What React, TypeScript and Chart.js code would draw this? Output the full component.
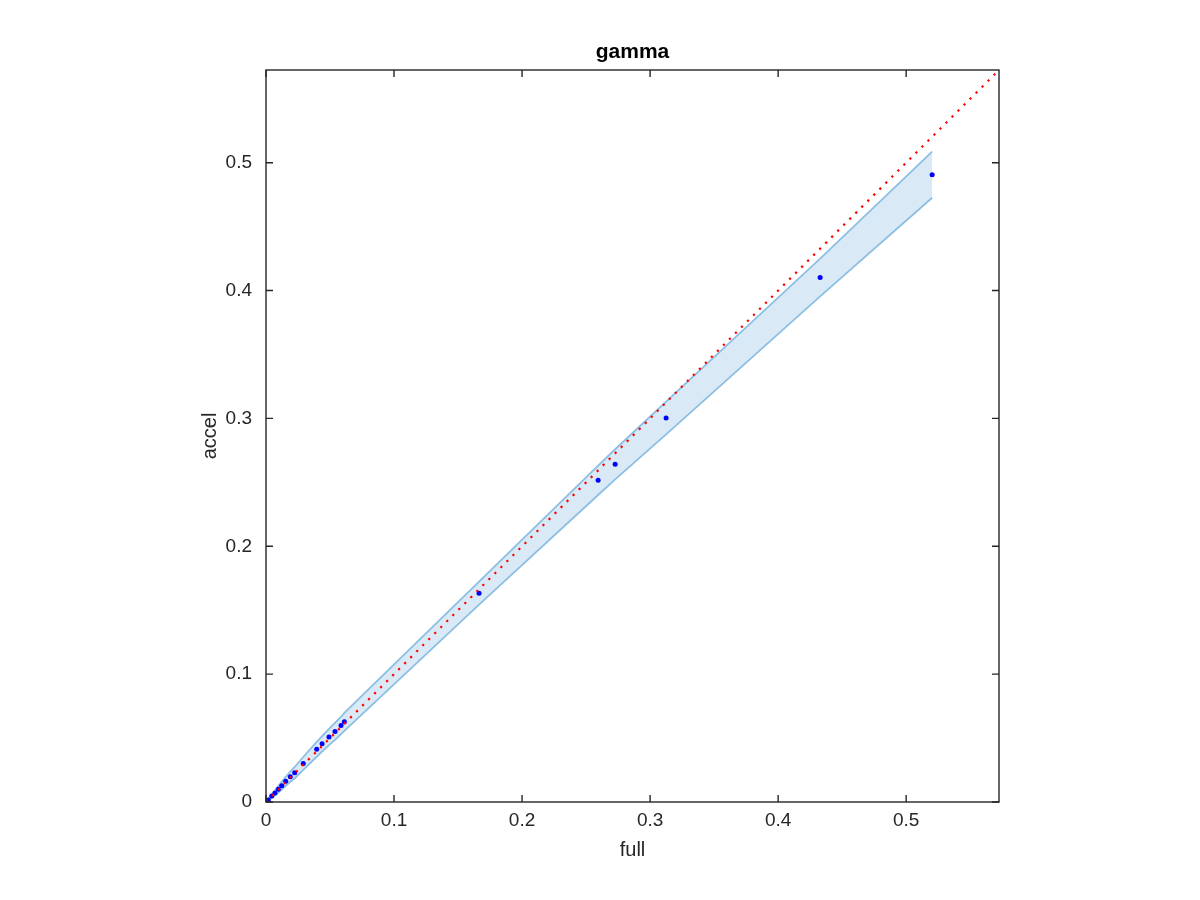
import { useEffect, useRef } from "react";
import { Chart, registerables } from "chart.js";

Chart.register(...registerables);

// ---- data ----
const fullValues = [0, 0.0018, 0.0045, 0.007, 0.0096, 0.0123, 0.0154, 0.019, 0.0224, 0.0291, 0.0396, 0.0438, 0.0492, 0.0539, 0.0586, 0.0612, 0.1664, 0.2594, 0.2727, 0.3125, 0.4328, 0.5203];
const accelValues = [0, 0.0016, 0.0047, 0.007, 0.0099, 0.0127, 0.0162, 0.0198, 0.0229, 0.0302, 0.0412, 0.0455, 0.0508, 0.0552, 0.0599, 0.0627, 0.1633, 0.2516, 0.2641, 0.3003, 0.4102, 0.4906];
const upperBand = [0.0005, 0.0026, 0.0062, 0.009, 0.0124, 0.0157, 0.0197, 0.0238, 0.0274, 0.0352, 0.047, 0.0515, 0.0571, 0.0618, 0.0667, 0.0697, 0.1723, 0.2631, 0.2759, 0.3131, 0.425, 0.5086];
const lowerBand = [0, 0.0006, 0.0032, 0.005, 0.0074, 0.0097, 0.0127, 0.0158, 0.0184, 0.0252, 0.0354, 0.0395, 0.0445, 0.0486, 0.0531, 0.0557, 0.1543, 0.2401, 0.2523, 0.2875, 0.3954, 0.4726];
const identityLine = [0, 0.5725];
const tickValues = [0, 0.1, 0.2, 0.3, 0.4, 0.5];
const axisMin = 0;
const axisMax = 0.5725;
const titleText = "gamma";
const xLabel = "full";
const yLabel = "accel";

const FONT = '"Liberation Sans", Arial, Helvetica, sans-serif';
const AXIS_COLOR = "#262626";

const boxPlugin = {
  id: "matlabBox",
  afterDraw(chart: any) {
    const { ctx, chartArea: a, scales } = chart;
    const x = scales.x;
    const y = scales.y;
    ctx.save();
    ctx.strokeStyle = AXIS_COLOR;
    ctx.lineWidth = 1.4;
    ctx.strokeRect(a.left, a.top, a.right - a.left, a.bottom - a.top);
    const tl = 7;
    ctx.beginPath();
    x.ticks.forEach((t: any) => {
      const px = x.getPixelForValue(t.value);
      ctx.moveTo(px, a.bottom);
      ctx.lineTo(px, a.bottom - tl);
      ctx.moveTo(px, a.top);
      ctx.lineTo(px, a.top + tl);
    });
    y.ticks.forEach((t: any) => {
      const py = y.getPixelForValue(t.value);
      ctx.moveTo(a.left, py);
      ctx.lineTo(a.left + tl, py);
      ctx.moveTo(a.right, py);
      ctx.lineTo(a.right - tl, py);
    });
    ctx.stroke();
    ctx.fillStyle = "#000";
    ctx.font = `bold 21px ${FONT}`;
    ctx.textAlign = "center";
    ctx.textBaseline = "alphabetic";
    ctx.fillText(titleText, (a.left + a.right) / 2, 58);
    ctx.restore();
  },
};

export default function App() {
  const ref = useRef<HTMLCanvasElement | null>(null);

  useEffect(() => {
    if (!ref.current) return;
    const pts = (xs: number[], ys: number[]) => xs.map((v, i) => ({ x: v, y: ys[i] }));
    const tickCb = (v: any) => (Number(v) === 0 ? "0" : Number(v).toFixed(1));
    const setTicks = (scale: any) => {
      scale.ticks = tickValues.map((v) => ({ value: v }));
    };

    const chart = new Chart(ref.current, {
      type: "line",
      data: {
        datasets: [
          {
            label: "identity",
            data: pts(identityLine, identityLine),
            borderColor: "#ff0000",
            borderWidth: 2.2,
            borderDash: [2.2, 6.3],
            borderCapStyle: "butt",
            pointRadius: 0,
            fill: false,
          },
          {
            label: "points",
            data: pts(fullValues, accelValues),
            showLine: false,
            pointRadius: 2.5,
            pointBorderWidth: 0,
            pointBackgroundColor: "#0000ff",
            borderColor: "#0000ff",
            fill: false,
          },
          {
            label: "upper",
            data: pts(fullValues, upperBand),
            borderColor: "rgb(140,191,227)",
            borderWidth: 1.8,
            pointRadius: 0,
            fill: "+1",
            backgroundColor: "rgb(217,233,245)",
          },
          {
            label: "lower",
            data: pts(fullValues, lowerBand),
            borderColor: "rgb(140,191,227)",
            borderWidth: 1.8,
            pointRadius: 0,
            fill: false,
          },
        ],
      },
      options: {
        responsive: false,
        animation: false,
        layout: { padding: { top: 70, right: 201, left: 0, bottom: 0 } },
        plugins: {
          legend: { display: false },
          tooltip: { enabled: false },
          filler: { drawTime: "beforeDatasetsDraw" },
        },
        scales: {
          x: {
            type: "linear",
            min: axisMin,
            max: axisMax,
            afterBuildTicks: setTicks,
            afterFit: (s: any) => {
              s.height = 98;
            },
            grid: { display: false, drawTicks: false },
            border: { display: false },
            ticks: {
              callback: tickCb,
              color: AXIS_COLOR,
              font: { family: FONT, size: 19 },
              padding: 7,
              maxRotation: 0,
              autoSkip: false,
            },
            title: {
              display: true,
              text: xLabel,
              color: AXIS_COLOR,
              font: { family: FONT, size: 20 },
              padding: { top: 0, bottom: 38 },
            },
          },
          y: {
            type: "linear",
            min: axisMin,
            max: axisMax,
            afterBuildTicks: setTicks,
            afterFit: (s: any) => {
              s.width = 266;
            },
            grid: { display: false, drawTicks: false },
            border: { display: false },
            ticks: {
              callback: tickCb,
              color: AXIS_COLOR,
              font: { family: FONT, size: 19 },
              padding: 14,
              autoSkip: false,
            },
            title: {
              display: true,
              text: yLabel,
              color: AXIS_COLOR,
              font: { family: FONT, size: 20 },
              padding: { top: 198, bottom: 0 },
            },
          },
        },
      } as any,
      plugins: [boxPlugin],
    });
    return () => chart.destroy();
  }, []);

  return (
    <div style={{ position: "absolute", left: 0, top: 0, width: 1200, height: 900, background: "#fff" }}>
      <canvas ref={ref} width={1200} height={900} style={{ display: "block" }} />
    </div>
  );
}
